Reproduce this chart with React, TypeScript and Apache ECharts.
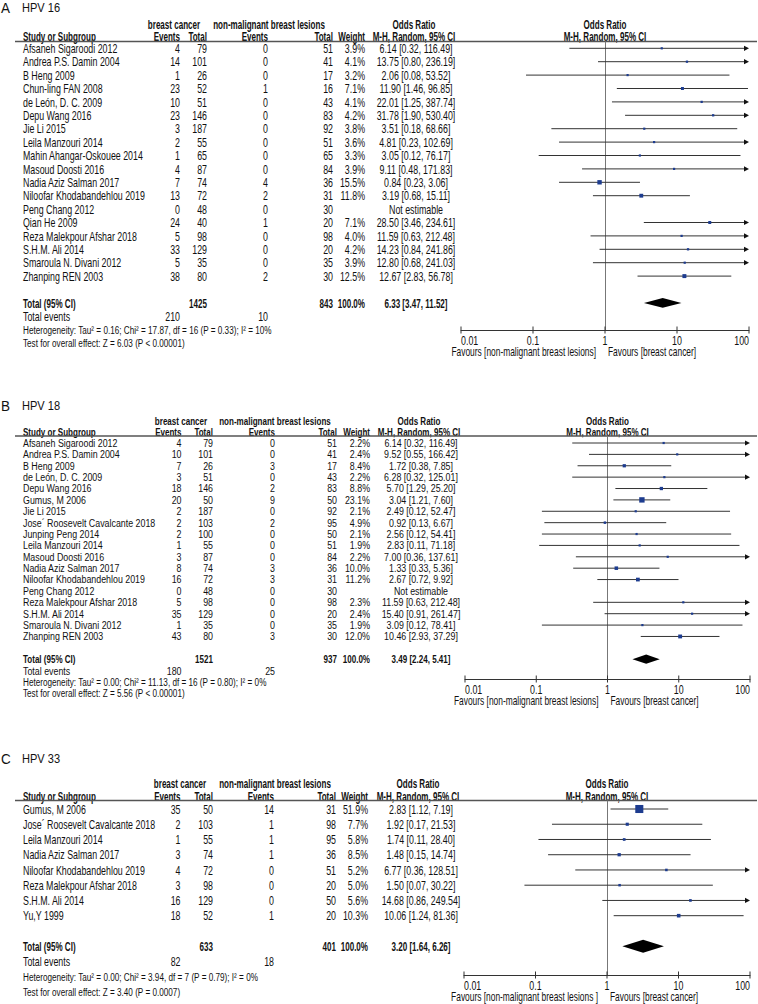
import React, { useEffect, useRef } from "react";
import * as echarts from "echarts";

const FONT = "'Liberation Sans',Arial,Helvetica,sans-serif";
// horizontal squeeze giving an "Arial Narrow" look: width = fontSize * factor
const W_REG = 0.77 * 11.5;
const W_BOLD = 0.7 * 11.5;

const TICKS = [0.01, 0.1, 1, 10, 100];
const TICK_LABELS = ["0.01", "0.1", "1", "10", "100"];

// ---------- Panel A: HPV 16 ----------
const STUDIES_A = ["Afsaneh Sigaroodi 2012", "Andrea P.S. Damin 2004", "B Heng 2009", "Chun-ling FAN 2008", "de León, D. C. 2009", "Depu Wang 2016", "Jie Li 2015", "Leila Manzouri 2014", "Mahin Ahangar-Oskouee 2014", "Masoud Doosti 2016", "Nadia Aziz Salman 2017", "Niloofar Khodabandehlou 2019", "Peng Chang 2012", "Qian He 2009", "Reza Malekpour Afshar 2018", "S.H.M. Ali 2014", "Smaroula N. Divani 2012", "Zhanping REN 2003"];
const BC_EVENTS_A = [4, 14, 1, 23, 10, 23, 3, 2, 1, 4, 7, 13, 0, 24, 5, 33, 5, 38];
const BC_TOTAL_A = [79, 101, 26, 52, 51, 146, 187, 55, 65, 87, 74, 72, 48, 40, 98, 129, 35, 80];
const NM_EVENTS_A = [0, 0, 0, 1, 0, 0, 0, 0, 0, 0, 4, 2, 0, 1, 0, 0, 0, 2];
const NM_TOTAL_A = [51, 41, 17, 16, 43, 83, 92, 51, 65, 84, 36, 31, 30, 20, 98, 20, 35, 30];
const WEIGHT_A = [3.9, 4.1, 3.2, 7.1, 4.1, 4.2, 3.8, 3.6, 3.3, 3.9, 15.5, 11.8, null, 7.1, 4.0, 4.2, 3.9, 12.5];
const OR_A = [6.14, 13.75, 2.06, 11.90, 22.01, 31.78, 3.51, 4.81, 3.05, 9.11, 0.84, 3.19, null, 28.50, 11.59, 14.23, 12.80, 12.67];
const LO_A = [0.32, 0.80, 0.08, 1.46, 1.25, 1.90, 0.18, 0.23, 0.12, 0.48, 0.23, 0.68, null, 3.46, 0.63, 0.84, 0.68, 2.83];
const HI_A = [116.49, 236.19, 53.52, 96.85, 387.74, 530.40, 68.66, 102.69, 76.17, 171.83, 3.06, 15.11, null, 234.61, 212.48, 241.86, 241.03, 56.78];
const TOTALS_A = [1425, 843];
const TOTAL_EVENTS_A = [210, 10];
const POOLED_A = [6.33, 3.47, 11.52];
const HET_A = "Heterogeneity: Tau² = 0.16; Chi² = 17.87, df = 16 (P = 0.33); I² = 10%";
const TEST_A = "Test for overall effect: Z = 6.03 (P < 0.00001)";

// ---------- Panel B: HPV 18 ----------
const STUDIES_B = ["Afsaneh Sigaroodi 2012", "Andrea P.S. Damin 2004", "B Heng 2009", "de León, D. C. 2009", "Depu Wang 2016", "Gumus, M 2006", "Jie Li 2015", "Jose´ Roosevelt Cavalcante 2018", "Junping Peng 2014", "Leila Manzouri 2014", "Masoud Doosti 2016", "Nadia Aziz Salman 2017", "Niloofar Khodabandehlou 2019", "Peng Chang 2012", "Reza Malekpour Afshar 2018", "S.H.M. Ali 2014", "Smaroula N. Divani 2012", "Zhanping REN 2003"];
const BC_EVENTS_B = [4, 10, 7, 3, 18, 20, 2, 2, 2, 1, 3, 8, 16, 0, 5, 35, 1, 43];
const BC_TOTAL_B = [79, 101, 26, 51, 146, 50, 187, 103, 100, 55, 87, 74, 72, 48, 98, 129, 35, 80];
const NM_EVENTS_B = [0, 0, 3, 0, 2, 9, 0, 2, 0, 0, 0, 3, 3, 0, 0, 0, 0, 3];
const NM_TOTAL_B = [51, 41, 17, 43, 83, 50, 92, 95, 50, 51, 84, 36, 31, 30, 98, 20, 35, 30];
const WEIGHT_B = [2.2, 2.4, 8.4, 2.2, 8.8, 23.1, 2.1, 4.9, 2.1, 1.9, 2.2, 10.0, 11.2, null, 2.3, 2.4, 1.9, 12.0];
const OR_B = [6.14, 9.52, 1.72, 6.28, 5.70, 3.04, 2.49, 0.92, 2.56, 2.83, 7.00, 1.33, 2.67, null, 11.59, 15.40, 3.09, 10.46];
const LO_B = [0.32, 0.55, 0.38, 0.32, 1.29, 1.21, 0.12, 0.13, 0.12, 0.11, 0.36, 0.33, 0.72, null, 0.63, 0.91, 0.12, 2.93];
const HI_B = [116.49, 166.42, 7.85, 125.01, 25.20, 7.60, 52.47, 6.67, 54.41, 71.18, 137.61, 5.36, 9.92, null, 212.48, 261.47, 78.41, 37.29];
const TOTALS_B = [1521, 937];
const TOTAL_EVENTS_B = [180, 25];
const POOLED_B = [3.49, 2.24, 5.41];
const HET_B = "Heterogeneity: Tau² = 0.00; Chi² = 11.13, df = 16 (P = 0.80); I² = 0%";
const TEST_B = "Test for overall effect: Z = 5.56 (P < 0.00001)";

// ---------- Panel C: HPV 33 ----------
const STUDIES_C = ["Gumus, M 2006", "Jose´ Roosevelt Cavalcante 2018", "Leila Manzouri 2014", "Nadia Aziz Salman 2017", "Niloofar Khodabandehlou 2019", "Reza Malekpour Afshar 2018", "S.H.M. Ali 2014", "Yu,Y 1999"];
const BC_EVENTS_C = [35, 2, 1, 3, 4, 3, 16, 18];
const BC_TOTAL_C = [50, 103, 55, 74, 72, 98, 129, 52];
const NM_EVENTS_C = [14, 1, 1, 1, 0, 0, 0, 1];
const NM_TOTAL_C = [31, 98, 95, 36, 51, 20, 50, 20];
const WEIGHT_C = [51.9, 7.7, 5.8, 8.5, 5.2, 5.0, 5.6, 10.3];
const OR_C = [2.83, 1.92, 1.74, 1.48, 6.77, 1.50, 14.68, 10.06];
const LO_C = [1.12, 0.17, 0.11, 0.15, 0.36, 0.07, 0.86, 1.24];
const HI_C = [7.19, 21.53, 28.40, 14.74, 128.51, 30.22, 249.54, 81.36];
const TOTALS_C = [633, 401];
const TOTAL_EVENTS_C = [82, 18];
const POOLED_C = [3.20, 1.64, 6.26];
const HET_C = "Heterogeneity: Tau² = 0.00; Chi² = 3.94, df = 7 (P = 0.79); I² = 0%";
const TEST_C = "Test for overall effect: Z = 3.40 (P = 0.0007)";

// ---------- layout (pixels) ----------
const LAYOUT_A = { fs: 12.5, titleY: 8, h1: 24, h2: 36, lineY: 41.5, row0: 48.3, rowH: 13.4, axisY: 330, x001: 461, x100: 749, ev: 180, tot: 207, nev: 268, ntot: 333, w: 365, orC: 416, bcC: 174, nmC: 269, orHC: 414, dh: 4.8 };
const LAYOUT_B = { fs: 11.5, titleY: 406, h1: 421, h2: 432, lineY: 436, row0: 443, rowH: 11.38, axisY: 679, x001: 465, x100: 750, ev: 181.5, tot: 213, nev: 275, ntot: 337, w: 370, orC: 421, bcC: 181, nmC: 275, orHC: 419, dh: 4.6 };
const LAYOUT_C = { fs: 12.5, titleY: 759, h1: 783, h2: 796, lineY: 800.5, row0: 809, rowH: 15.24, axisY: 975, x001: 464, x100: 750, ev: 180.5, tot: 213, nev: 274, ntot: 336, w: 368, orC: 421, bcC: 180, nmC: 275, orHC: 418, dh: 6.5 };

const PANELS = [
  { letter: "A", title: "HPV 16", studies: STUDIES_A, bcE: BC_EVENTS_A, bcT: BC_TOTAL_A, nmE: NM_EVENTS_A, nmT: NM_TOTAL_A, w: WEIGHT_A, or: OR_A, lo: LO_A, hi: HI_A, totals: TOTALS_A, events: TOTAL_EVENTS_A, pooled: POOLED_A, het: HET_A, test: TEST_A, favL: "Favours [non-malignant breast lesions]", L: LAYOUT_A },
  { letter: "B", title: "HPV 18", studies: STUDIES_B, bcE: BC_EVENTS_B, bcT: BC_TOTAL_B, nmE: NM_EVENTS_B, nmT: NM_TOTAL_B, w: WEIGHT_B, or: OR_B, lo: LO_B, hi: HI_B, totals: TOTALS_B, events: TOTAL_EVENTS_B, pooled: POOLED_B, het: HET_B, test: TEST_B, favL: "Favours [non-malignant breast lesions]", L: LAYOUT_B },
  { letter: "C", title: "HPV 33", studies: STUDIES_C, bcE: BC_EVENTS_C, bcT: BC_TOTAL_C, nmE: NM_EVENTS_C, nmT: NM_TOTAL_C, w: WEIGHT_C, or: OR_C, lo: LO_C, hi: HI_C, totals: TOTALS_C, events: TOTAL_EVENTS_C, pooled: POOLED_C, het: HET_C, test: TEST_C, favL: "Favours [non-malignant breast lesions ]", L: LAYOUT_C },
];

const SQUARE = "#1d3c8f";
const TEXT = "#111";

const f2 = (v: number) => v.toFixed(2);
const orText = (o: number, l: number, h: number) => `${f2(o)} [${f2(l)}, ${f2(h)}]`;

function txt(text: string, x: number, y: number, align: string, o: any = {}) {
  const size = o.size || 11.5;
  const sx = o.sx || (o.bold ? W_BOLD : W_REG) / size;
  return {
    type: "text",
    x,
    y,
    scaleX: sx,
    silent: true,
    style: {
      text,
      fill: o.fill || TEXT,
      fontSize: size,
      fontFamily: FONT,
      fontWeight: o.bold ? "bold" : "normal",
      textAlign: align,
      textVerticalAlign: "middle",
      align,
      verticalAlign: "middle",
    },
  };
}

function buildOption() {
  const grid: any[] = [];
  const xAxis: any[] = [];
  const yAxis: any[] = [];
  const series: any[] = [];
  const graphic: any[] = [];

  PANELS.forEach((P, k) => {
    const L = P.L;
    const fs = L.fs;
    const n = P.studies.length;
    const yMin = (L.lineY - L.row0) / L.rowH;
    const yMax = (L.axisY - L.row0) / L.rowH;
    const x1 = (L.x001 + L.x100) / 2;

    grid.push({ left: L.x001, top: L.lineY, width: L.x100 - L.x001, height: L.axisY - L.lineY, containLabel: false });
    xAxis.push({
      type: "log",
      logBase: 10,
      min: 0.01,
      max: 100,
      gridIndex: k,
      axisLine: { show: true, onZero: false, lineStyle: { color: "#333", width: 1 } },
      axisTick: { show: false },
      minorTick: { show: false },
      splitLine: { show: false },
      axisLabel: { show: false },
    });
    yAxis.push({ type: "value", gridIndex: k, inverse: true, min: yMin, max: yMax, show: false });

    // table rows
    const tableData: number[][] = [];
    for (let i = 0; i < n; i++) tableData.push([1, i]);
    tableData.push([1, n + 1], [1, n + 2], [1, n + 3], [1, n + 4]);
    series.push({
      type: "custom",
      coordinateSystem: "cartesian2d",
      xAxisIndex: k,
      yAxisIndex: k,
      silent: true,
      clip: false,
      data: tableData,
      encode: { x: 0, y: 1 },
      renderItem: (params: any, api: any) => {
        const i = params.dataIndex;
        const y = api.coord([1, api.value(1)])[1];
        const ch: any[] = [];
        const R = { size: fs };
        const B = { size: fs, bold: true };
        if (i < n) {
          ch.push(txt(P.studies[i], 23, y, "left", R));
          ch.push(txt(String(P.bcE[i]), L.ev, y, "right", R));
          ch.push(txt(String(P.bcT[i]), L.tot, y, "right", R));
          ch.push(txt(String(P.nmE[i]), L.nev, y, "right", R));
          ch.push(txt(String(P.nmT[i]), L.ntot, y, "right", R));
          if (P.or[i] == null) {
            ch.push(txt("Not estimable", L.orC, y, "center", R));
          } else {
            ch.push(txt((P.w[i] as number).toFixed(1) + "%", L.w, y, "right", R));
            ch.push(txt(orText(P.or[i] as number, P.lo[i] as number, P.hi[i] as number), L.orC, y, "center", R));
          }
        } else if (i === n) {
          ch.push(txt("Total (95% CI)", 23, y, "left", B));
          ch.push(txt(String(P.totals[0]), L.tot, y, "right", B));
          ch.push(txt(String(P.totals[1]), L.ntot, y, "right", B));
          ch.push(txt("100.0%", L.w, y, "right", B));
          ch.push(txt(orText(P.pooled[0], P.pooled[1], P.pooled[2]), L.orC, y, "center", B));
        } else if (i === n + 1) {
          ch.push(txt("Total events", 23, y, "left", R));
          ch.push(txt(String(P.events[0]), L.ev, y, "right", R));
          ch.push(txt(String(P.events[1]), L.nev, y, "right", R));
        } else if (i === n + 2) {
          ch.push(txt(P.het, 23, y, "left", { size: 11.5, sx: 0.71 }));
        } else {
          ch.push(txt(P.test, 23, y, "left", { size: 11.5, sx: 0.71 }));
        }
        return { type: "group", children: ch };
      },
    });

    // forest: CI lines, arrows, squares
    const forestData: number[][] = [];
    for (let i = 0; i < n; i++) {
      if (P.or[i] != null) forestData.push([P.or[i] as number, i, P.lo[i] as number, P.hi[i] as number, P.w[i] as number]);
    }
    series.push({
      type: "custom",
      coordinateSystem: "cartesian2d",
      xAxisIndex: k,
      yAxisIndex: k,
      silent: true,
      clip: false,
      data: forestData,
      encode: { x: 0, y: 1 },
      z: 3,
      renderItem: (params: any, api: any) => {
        const o = api.value(0), r = api.value(1), lo = api.value(2), hi = api.value(3), w = api.value(4);
        const pc = api.coord([o, r]);
        const pl = api.coord([Math.max(lo, 0.01), r]);
        const ph = api.coord([Math.min(hi, 100), r]);
        const AL = 5, AH = 2.6;
        const arrowR = hi > 100, arrowL = lo < 0.01;
        const ch: any[] = [];
        ch.push({ type: "line", shape: { x1: arrowL ? pl[0] + AL : pl[0], y1: pc[1], x2: arrowR ? ph[0] - AL : ph[0], y2: pc[1] }, style: { stroke: "#333", lineWidth: 1 } });
        if (arrowR) ch.push({ type: "polygon", shape: { points: [[ph[0], pc[1]], [ph[0] - AL, pc[1] - AH], [ph[0] - AL, pc[1] + AH]] }, style: { fill: "#111" } });
        if (arrowL) ch.push({ type: "polygon", shape: { points: [[pl[0], pc[1]], [pl[0] + AL, pc[1] - AH], [pl[0] + AL, pc[1] + AH]] }, style: { fill: "#111" } });
        const s = Math.max(2.2, 1.12 * Math.sqrt(w));
        ch.push({ type: "rect", shape: { x: pc[0] - s / 2, y: pc[1] - s / 2, width: s, height: s }, style: { fill: SQUARE } });
        return { type: "group", children: ch };
      },
      markLine: {
        silent: true,
        symbol: ["none", "none"],
        label: { show: false },
        lineStyle: { color: "#777", width: 1, type: "solid" },
        data: [{ xAxis: 1 }],
        z: 1,
      },
    });

    // pooled diamond
    series.push({
      type: "custom",
      coordinateSystem: "cartesian2d",
      xAxisIndex: k,
      yAxisIndex: k,
      silent: true,
      clip: false,
      data: [[P.pooled[0], n + 1, P.pooled[1], P.pooled[2]]],
      encode: { x: 0, y: 1 },
      z: 4,
      renderItem: (params: any, api: any) => {
        const o = api.value(0), r = api.value(1);
        const pc = api.coord([o, r]);
        const pl = api.coord([api.value(2), r]);
        const ph = api.coord([api.value(3), r]);
        return { type: "polygon", shape: { points: [pl, [pc[0], pc[1] - L.dh], ph, [pc[0], pc[1] + L.dh]] }, style: { fill: "#000" } };
      },
    });

    // axis ticks crossing the axis line, with their labels (end labels aligned inward)
    series.push({
      type: "custom",
      coordinateSystem: "cartesian2d",
      xAxisIndex: k,
      yAxisIndex: k,
      silent: true,
      clip: false,
      data: TICKS.map((t) => [t, yMax]),
      encode: { x: 0, y: 1 },
      renderItem: (params: any, api: any) => {
        const p = api.coord([api.value(0), api.value(1)]);
        const j = params.dataIndex;
        const align = j === 0 ? "left" : j === TICKS.length - 1 ? "right" : "center";
        return {
          type: "group",
          children: [
            { type: "line", shape: { x1: p[0], y1: p[1] - 3.5, x2: p[0], y2: p[1] + 3.5 }, style: { stroke: "#333", lineWidth: 1 } },
            txt(TICK_LABELS[j], p[0], p[1] + 10.5, align, { size: 12 }),
          ],
        };
      },
    });

    // headers, titles, favours
    const H = { size: fs, bold: true };
    graphic.push(txt(P.letter, 1, L.titleY, "left", { size: 15, sx: 0.9 }));
    graphic.push(txt(P.title, 22, L.titleY, "left", { size: 13, sx: 0.85 }));
    graphic.push(txt("breast cancer", L.bcC, L.h1, "center", H));
    graphic.push(txt("non-malignant breast lesions", L.nmC, L.h1, "center", H));
    graphic.push(txt("Odds Ratio", L.orHC, L.h1, "center", H));
    graphic.push(txt("Odds Ratio", x1, L.h1, "center", H));
    graphic.push(txt("Study or Subgroup", 23, L.h2, "left", H));
    graphic.push(txt("Events", L.ev, L.h2, "right", H));
    graphic.push(txt("Total", L.tot, L.h2, "right", H));
    graphic.push(txt("Events", L.nev, L.h2, "right", H));
    graphic.push(txt("Total", L.ntot, L.h2, "right", H));
    graphic.push(txt("Weight", L.w, L.h2, "right", H));
    graphic.push(txt("M-H, Random, 95% CI", L.orHC, L.h2, "center", H));
    graphic.push(txt("M-H, Random, 95% CI", x1, L.h2, "center", H));
    graphic.push({ type: "line", silent: true, shape: { x1: 15, y1: L.lineY, x2: 757, y2: L.lineY }, style: { stroke: "#555", lineWidth: 1.5 } });
    graphic.push(txt(P.favL, x1 - 9, L.axisY + 22, "right", { size: 12, sx: 0.7 }));
    graphic.push(txt("Favours [breast cancer]", x1 + 3, L.axisY + 22, "left", { size: 12, sx: 0.7 }));
  });

  return {
    animation: false,
    backgroundColor: "#fff",
    grid,
    xAxis,
    yAxis,
    series,
    graphic: { elements: graphic },
  };
}

export default function App() {
  const ref = useRef<HTMLDivElement>(null);
  useEffect(() => {
    const chart = echarts.init(ref.current as HTMLDivElement, null, { renderer: "svg" });
    chart.setOption(buildOption() as any);
    return () => chart.dispose();
  }, []);
  return <div ref={ref} style={{ position: "absolute", left: 0, top: 0, width: 758, height: 1004, background: "#fff" }} />;
}
